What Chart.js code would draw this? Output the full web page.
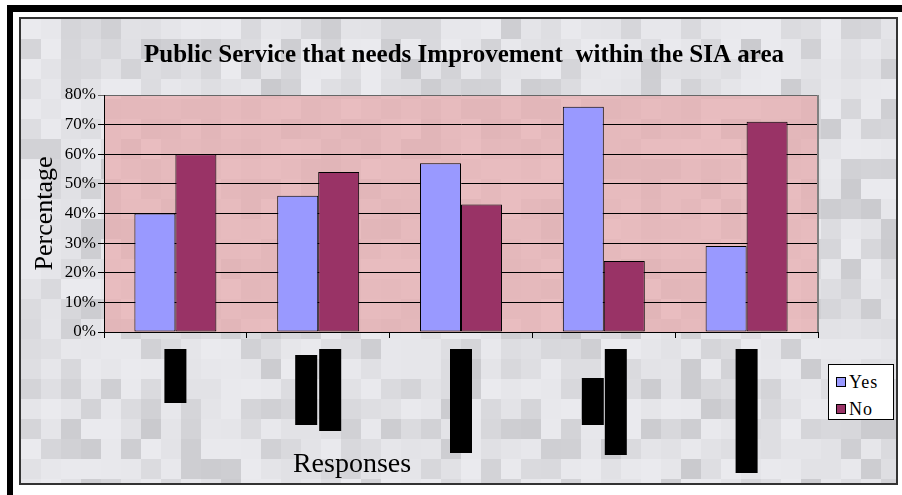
<!DOCTYPE html>
<html>
<head>
<meta charset="utf-8">
<script src="https://cdn.jsdelivr.net/npm/chart.js@4/dist/chart.umd.min.js"></script>
<style>
  html, body { margin: 0; padding: 0; background: #fff; }
  body { width: 902px; height: 495px; position: relative; overflow: hidden; font-family: 'Liberation Serif', serif; }
  #outer { position: absolute; left: 7px; top: 5px; width: 1000px; height: 600px; border-left: 6px solid #000; border-top: 7px solid #000; }
  #frame { position: absolute; left: 19px; top: 17px; width: 875px; height: 464px; border: 2px solid #333; }
  #wrap { position: absolute; left: 21px; top: 19px; width: 875px; height: 464px; }
  #legend { position: absolute; left: 828px; top: 364px; width: 64px; height: 54px; border: 1px solid #000; background: #fff; }
  #legend div { position: absolute; left: 7px; height: 20px; line-height: 20px; font-size: 18px; color: #000; white-space: nowrap; letter-spacing: 1px; }
  #legend span { display: inline-block; width: 8px; height: 8px; border: 1px solid #000; margin-right: 3px; vertical-align: 1px; }
</style>
</head>
<body>
<div id="outer"></div>
<div id="frame"></div>
<div id="wrap"><canvas id="sia-chart" width="875" height="464"></canvas></div>
<div id="legend"></div>
<script>
// category names are blacked out in the source picture
const categories = ['Service 1', 'Service 2', 'Service 3', 'Service 4', 'Service 5'];
const yesValues = [40, 46, 57, 76, 29];
const noValues = [60, 54, 43, 24, 71];
const yMin = 0;
const yMax = 80;
const yStep = 10;

const chartTitle = 'Public Service that needs Improvement  within the SIA area';
const yTitle = 'Percentage';
const xTitle = 'Responses';

// black redaction boxes under each category: [dx, top, bottom] from the axis line
const redactions = [
    [[0, 17, 71]],
    [[-12, 23, 93], [12, 17, 99]],
    [[0, 17, 121]],
    [[-11, 46, 93], [12, 17, 123]],
    [[0, 17, 141]]
];

function tone(i, j) {
    var h = Math.sin(i * 127.1 + j * 311.7) * 43758.5453;
    return h - Math.floor(h);
}

const mosaic = {
    id: 'mosaic',
    beforeDraw(chart) {
        const ctx = chart.ctx;
        const a = chart.chartArea;
        const size = 20;
        ctx.save();
        for (let i = 0; i * size < chart.width; i++) {
            for (let j = 0; j * size < chart.height; j++) {
                const t = tone(i, j);
                const g = Math.round(234 - 32 * t * t);
                ctx.fillStyle = 'rgb(' + g + ',' + g + ',' + (g + 4) + ')';
                ctx.fillRect(i * size, j * size, size, size);
            }
        }
        ctx.beginPath();
        ctx.rect(a.left, a.top, a.right - a.left, a.bottom - a.top);
        ctx.clip();
        for (let i = 0; i * size < chart.width; i++) {
            for (let j = 0; j * size < chart.height; j++) {
                const t = tone(i + 7, j + 3);
                ctx.fillStyle = 'rgb(' + Math.round(225 + 8 * t) + ',' + Math.round(181 + 8 * t) + ',' + Math.round(184 + 8 * t) + ')';
                ctx.fillRect(i * size, j * size, size, size);
            }
        }
        ctx.restore();
    },
    beforeDatasetsDraw(chart) {
        const ctx = chart.ctx;
        const a = chart.chartArea;
        ctx.save();
        ctx.strokeStyle = '#808080';
        ctx.lineWidth = 2;
        ctx.beginPath();
        ctx.moveTo(a.right, a.top);
        ctx.lineTo(a.right, a.bottom);
        ctx.stroke();
        ctx.restore();
    },
    afterDraw(chart) {
        const ctx = chart.ctx;
        const a = chart.chartArea;
        const x = chart.scales.x;
        ctx.save();
        ctx.fillStyle = '#000';
        ctx.textAlign = 'center';
        ctx.textBaseline = 'middle';
        ctx.font = 'bold 25px "Liberation Serif"';
        ctx.fillText(chartTitle, (a.left + a.right) / 2 + 3, 37);

        ctx.font = '28px "Liberation Serif"';
        ctx.textBaseline = 'alphabetic';
        ctx.fillText(xTitle, 331, 453);

        ctx.save();
        ctx.translate(24, (a.top + a.bottom) / 2);
        ctx.rotate(-Math.PI / 2);
        ctx.font = '26px "Liberation Serif"';
        ctx.textBaseline = 'middle';
        ctx.fillText(yTitle, 0, 0);
        ctx.restore();

        redactions.forEach(function (boxes, i) {
            const cx = x.getPixelForValue(i);
            boxes.forEach(function (b) {
                ctx.fillRect(cx + b[0] - 11, a.bottom + b[1], 22, b[2] - b[1]);
            });
        });
        ctx.restore();
    }
};

const SiaCanvas = document.getElementById('sia-chart');
const SiaChart = new Chart(SiaCanvas, {
    type: 'bar',
    data: {
        labels: categories,
        datasets: [{
            label: 'Yes',
            data: yesValues,
            backgroundColor: '#9999FF',
            borderColor: '#000',
            borderWidth: 1,
            borderSkipped: false,
            categoryPercentage: 0.574,
            barPercentage: 1
        }, {
            label: 'No',
            data: noValues,
            backgroundColor: '#993366',
            borderColor: '#000',
            borderWidth: 1,
            borderSkipped: false,
            categoryPercentage: 0.574,
            barPercentage: 1
        }]
    },
    options: {
        responsive: false,
        animation: false,
        layout: {
            padding: { top: 76, right: 78, bottom: 0, left: 0 }
        },
        plugins: {
            legend: { display: false },
            title: { display: false },
            tooltip: { enabled: false }
        },
        scales: {
            x: {
                afterFit: function (s) { s.height = 151; },
                ticks: { display: false },
                grid: { offset: true, drawOnChartArea: false, color: '#000', tickLength: 6 },
                border: { color: '#000', width: 1 }
            },
            y: {
                min: yMin,
                max: yMax,
                afterFit: function (s) { s.width = 83; },
                ticks: {
                    stepSize: yStep,
                    padding: 2,
                    color: '#000',
                    font: { family: 'Liberation Serif', size: 17 },
                    callback: function (v) { return v + '%'; }
                },
                grid: {
                    color: function (c) { return c.tick && c.tick.value === yMax ? '#666' : '#000'; },
                    tickLength: 6
                },
                border: { color: '#000', width: 1 }
            }
        }
    },
    plugins: [mosaic]
});

const legendBox = document.getElementById('legend');
SiaChart.data.datasets.forEach(function (ds, i) {
    const row = document.createElement('div');
    row.style.top = (7 + i * 27) + 'px';
    row.innerHTML = '<span style="background:' + ds.backgroundColor + '"></span>' + ds.label;
    legendBox.appendChild(row);
});
</script>
</body>
</html>
